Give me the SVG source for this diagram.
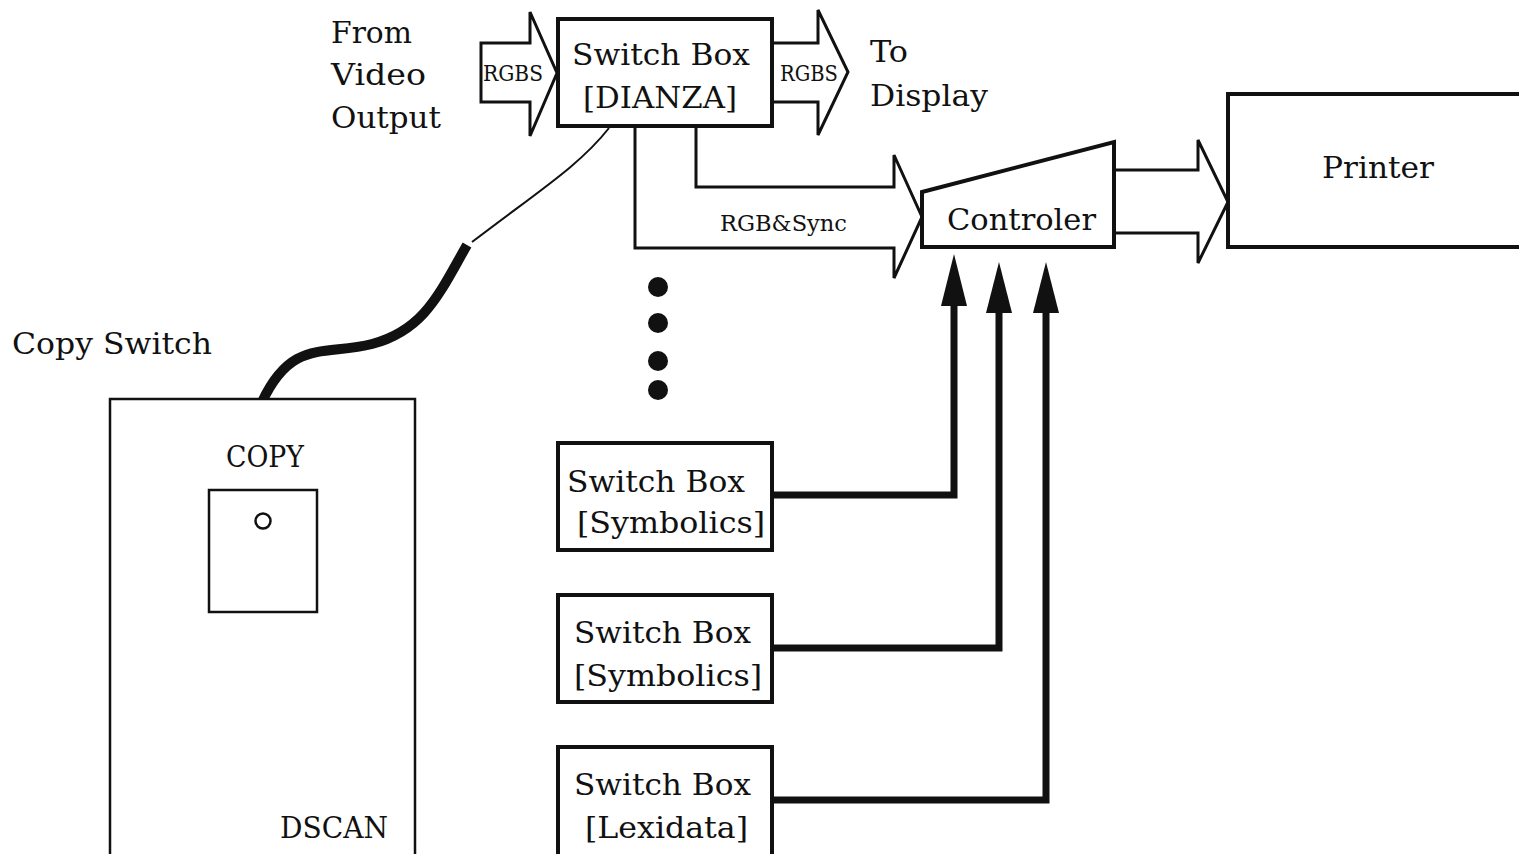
<svg xmlns="http://www.w3.org/2000/svg" width="1519" height="854" viewBox="0 0 1519 854">
<style>
text{font-family:"DejaVu Serif","Liberation Serif",serif;fill:#111}
.t{font-size:29px}
.s{font-size:22px}
.box{fill:#fff;stroke:#111;stroke-width:4}
.thin{fill:#fff;stroke:#111;stroke-width:2.5}
.arr{fill:#fff;stroke:#111;stroke-width:3;stroke-linejoin:miter}
.wire{fill:none;stroke:#111;stroke-width:7}
.head{fill:#111}
</style>
<rect width="1519" height="854" fill="#fff"/>
<g id="labels-top">
<text class="t" x="331" y="43" textLength="81" lengthAdjust="spacingAndGlyphs">From</text>
<text class="t" x="331" y="85" textLength="95" lengthAdjust="spacingAndGlyphs">Video</text>
<text class="t" x="331" y="128" textLength="110" lengthAdjust="spacingAndGlyphs">Output</text>
<text class="t" x="870" y="62" textLength="38" lengthAdjust="spacingAndGlyphs">To</text>
<text class="t" x="870" y="106" textLength="118" lengthAdjust="spacingAndGlyphs">Display</text>
<text class="t" x="12" y="354" textLength="200" lengthAdjust="spacingAndGlyphs">Copy Switch</text>
</g>
<g id="connectors">
<polygon class="arr" points="481,43 530,43 530,12 557,73 530,136 530,102 481,102"/>
<text class="s" x="483" y="81" textLength="60" lengthAdjust="spacingAndGlyphs">RGBS</text>
<polygon class="arr" points="772,43 818,43 818,10 848,72 818,135 818,102 772,102"/>
<text class="s" x="780" y="81" textLength="58" lengthAdjust="spacingAndGlyphs">RGBS</text>
<path class="arr" d="M696,126 V187 H894 V155 L922,217 L894,278 V248 H635 V126"/>
<text class="s" x="720" y="231" textLength="127" lengthAdjust="spacingAndGlyphs">RGB&amp;Sync</text>
<path class="arr" d="M1115,170 H1198 V140 L1228,202 L1198,263 V233 H1115"/>
<path d="M609,128 C580,165 540,190 472,242" fill="none" stroke="#111" stroke-width="2"/>
<path d="M467,245 C440,292 425,330 372,344 C325,356 292,338 262,402" fill="none" stroke="#111" stroke-width="10"/>
<path class="wire" d="M772,495 H954 V300"/>
<polygon class="head" points="954,254 967,306 941,306"/>
<path class="wire" d="M772,648 H999 V308"/>
<polygon class="head" points="999,262 1012,313 986,313"/>
<path class="wire" d="M772,800 H1046 V308"/>
<polygon class="head" points="1046,262 1059,313 1033,313"/>
</g>
<g id="dianza">
<rect class="box" x="558" y="19" width="214" height="107"/>
<text class="t" x="572" y="65" textLength="178" lengthAdjust="spacingAndGlyphs">Switch Box</text>
<text class="t" x="583" y="108" textLength="154" lengthAdjust="spacingAndGlyphs">[DIANZA]</text>
</g>
<g id="controller">
<polygon class="box" points="922,192 1114,142 1114,247 922,247"/>
<text class="t" x="947" y="230" textLength="149" lengthAdjust="spacingAndGlyphs">Controler</text>
</g>
<g id="printer">
<rect class="box" x="1228" y="94" width="300" height="153"/>
<text class="t" x="1322" y="178" textLength="112" lengthAdjust="spacingAndGlyphs">Printer</text>
</g>
<g id="dots">
<circle cx="658" cy="287" r="10" fill="#111"/>
<circle cx="658" cy="323" r="10" fill="#111"/>
<circle cx="658" cy="361" r="10" fill="#111"/>
<circle cx="658" cy="390" r="10" fill="#111"/>
</g>
<g id="symbolics1">
<rect class="box" x="558" y="443" width="214" height="107"/>
<text class="t" x="567" y="492" textLength="178" lengthAdjust="spacingAndGlyphs">Switch Box</text>
<text class="t" x="577" y="533" textLength="188" lengthAdjust="spacingAndGlyphs">[Symbolics]</text>
</g>
<g id="symbolics2">
<rect class="box" x="558" y="595" width="214" height="107"/>
<text class="t" x="574" y="643" textLength="177" lengthAdjust="spacingAndGlyphs">Switch Box</text>
<text class="t" x="574" y="686" textLength="188" lengthAdjust="spacingAndGlyphs">[Symbolics]</text>
</g>
<g id="lexidata">
<rect class="box" x="558" y="747" width="214" height="120"/>
<text class="t" x="574" y="795" textLength="177" lengthAdjust="spacingAndGlyphs">Switch Box</text>
<text class="t" x="585" y="838" textLength="163" lengthAdjust="spacingAndGlyphs">[Lexidata]</text>
</g>
<g id="dscan">
<rect class="thin" x="110" y="399" width="305" height="470"/>
<text class="t" x="226" y="467" textLength="78" lengthAdjust="spacingAndGlyphs">COPY</text>
<rect class="thin" x="209" y="490" width="108" height="122"/>
<circle cx="263" cy="521" r="7.5" fill="none" stroke="#111" stroke-width="2.5"/>
<text class="t" x="280" y="838" textLength="108" lengthAdjust="spacingAndGlyphs">DSCAN</text>
</g>
</svg>
